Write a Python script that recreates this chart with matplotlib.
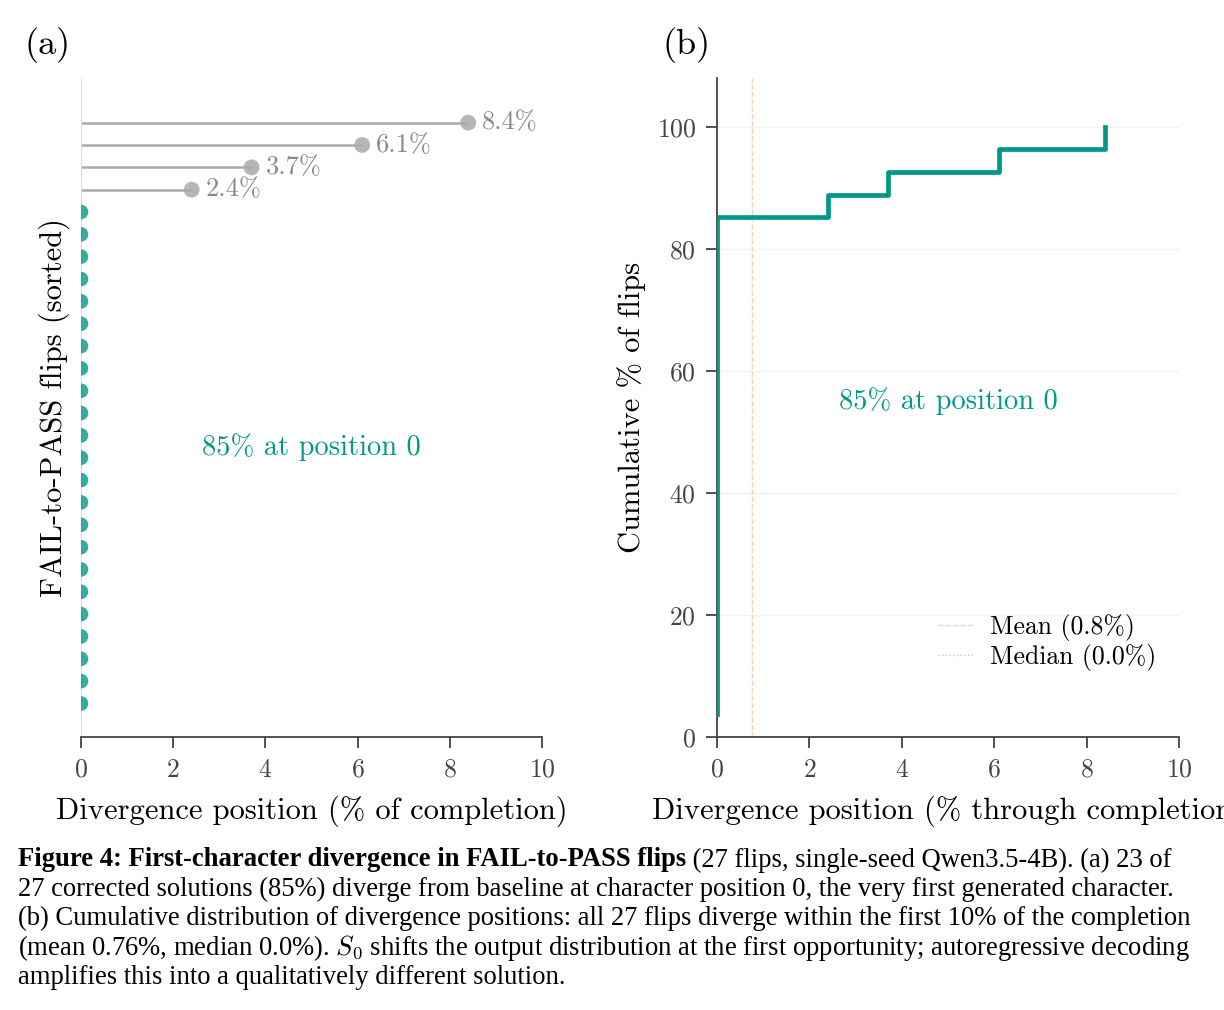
import matplotlib
matplotlib.use("Agg")
import matplotlib.pyplot as plt
import numpy as np

plt.rcParams['font.family'] = 'cmr10'
plt.rcParams['mathtext.fontset'] = 'cm'
plt.rcParams['axes.formatter.use_mathtext'] = True
plt.rcParams['axes.unicode_minus'] = False

# divergence positions (% of completion), 27 flips
zero_flips = [0.0] * 23
late_flips = [2.4, 3.7, 6.1, 8.4]
late_labels = ['2.4%', '3.7%', '6.1%', '8.4%']
mean_pos = 0.76
median_pos = 0.0

teal = '#009988'
dark = '#444444'

fig = plt.figure(figsize=(12.24, 10.1), dpi=100)
ax1 = fig.add_axes([0.0662, 0.2703, 0.3766, 0.6525])
ax2 = fig.add_axes([0.5858, 0.2703, 0.3774, 0.6525])

# ---- panel (a): lollipop of sorted flips
positions = np.array(zero_flips + late_flips)
rows = np.arange(len(positions))
n0 = len(zero_flips)
ax1.scatter(positions[:n0], rows[:n0], s=110, color=teal, alpha=0.8,
            edgecolors='none', zorder=3)
ax1.hlines(rows[n0:], 0, positions[n0:], color='#aaaaaa', lw=1.8, zorder=2)
ax1.scatter(positions[n0:], rows[n0:], s=130, color='#aaaaaa', alpha=0.85,
            edgecolors='none', zorder=3)
for x, y, lab in zip(positions[n0:], rows[n0:], late_labels):
    ax1.text(x + 0.3, y, lab, color='#888888', fontsize=19, va='center', ha='left')
ax1.text(5.0, 11.5, '85% at position 0', color=teal, fontsize=20.5,
         ha='center', va='center')
ax1.set_xlim(0, 10)
ax1.set_ylim(-1.5, 28)
ax1.set_yticks([])
ax1.set_xticks(range(0, 11, 2))
ax1.spines['top'].set_visible(False)
ax1.spines['right'].set_visible(False)
ax1.spines['left'].set_color('#dddddd')
ax1.spines['bottom'].set_color(dark)
ax1.spines['bottom'].set_linewidth(1.3)
ax1.tick_params(axis='x', colors=dark, labelsize=18.5, length=8, width=1.3, pad=7)
ax1.set_xlabel('Divergence position (% of completion)', fontsize=22, labelpad=10)
ax1.set_ylabel('FAIL-to-PASS flips (sorted)', fontsize=22, labelpad=8)
ax1.text(-0.072, 1.05, '(a)', transform=ax1.transAxes, fontsize=26,
         ha='center', va='center')

# ---- panel (b): cumulative distribution
xs = np.sort(positions)
ys = np.arange(1, len(xs) + 1) / len(xs) * 100
ax2.grid(axis='y', color='#f2f2f2', lw=1.0)
ax2.set_axisbelow(True)
ax2.step(xs, ys, where='post', color=teal, lw=3.4, zorder=3)
ax2.axvline(mean_pos, color='#EE7733', alpha=0.35, ls='--', lw=1.0,
            label='Mean (%.1f%%)' % mean_pos)
ax2.axvline(median_pos, color='#CC3311', alpha=0.35, ls=':', lw=1.0,
            label='Median (%.1f%%)' % median_pos)
ax2.text(5.0, 55, '85% at position 0', color=teal, fontsize=20.5,
         ha='center', va='center')
ax2.set_xlim(0, 10)
ax2.set_ylim(0, 108)
ax2.set_xticks(range(0, 11, 2))
ax2.set_yticks(range(0, 101, 20))
for s in ['top', 'right']:
    ax2.spines[s].set_visible(False)
for s in ['left', 'bottom']:
    ax2.spines[s].set_color(dark)
    ax2.spines[s].set_linewidth(1.3)
ax2.tick_params(colors=dark, labelsize=18.5, length=8, width=1.3, pad=7)
ax2.set_xlabel('Divergence position (% through completion)', fontsize=22, labelpad=10)
ax2.set_ylabel('Cumulative % of flips', fontsize=22, labelpad=8)
ax2.legend(loc='lower right', frameon=False, fontsize=18.5,
           bbox_to_anchor=(1.0, 0.065), handlelength=1.4, labelspacing=0.12,
           handletextpad=0.6)
ax2.text(-0.067, 1.05, '(b)', transform=ax2.transAxes, fontsize=26,
         ha='center', va='center')

# ---- caption
cap_size = 19.2
cap_font = 'Liberation Serif'
lines = [
    None,
    '27 corrected solutions (85%) diverge from baseline at character position 0, the very first generated character.',
    '(b) Cumulative distribution of divergence positions: all 27 flips diverge within the first 10% of the completion',
    '(mean 0.76%, median 0.0%). $S_0$ shifts the output distribution at the first opportunity; autoregressive decoding',
    'amplifies this into a qualitatively different solution.',
]
y0 = 1 - 860 / 1010
dy = 29.4 / 1010
x0 = 18 / 1224
bold = fig.text(x0, y0, 'Figure 4: First-character divergence in FAIL-to-PASS flips',
                fontsize=cap_size, family=cap_font, weight='bold', va='center')
r = fig.canvas.get_renderer()
bb = bold.get_window_extent(renderer=r)
fig.text(bb.x1 / fig.bbox.width, y0,
         ' (27 flips, single-seed Qwen3.5-4B). (a) 23 of',
         fontsize=cap_size, family=cap_font, va='center')
for i, line in enumerate(lines[1:], start=1):
    fig.text(x0, y0 - i * dy, line, fontsize=cap_size, family=cap_font, va='center')

fig.savefig('out.png', dpi=100)
